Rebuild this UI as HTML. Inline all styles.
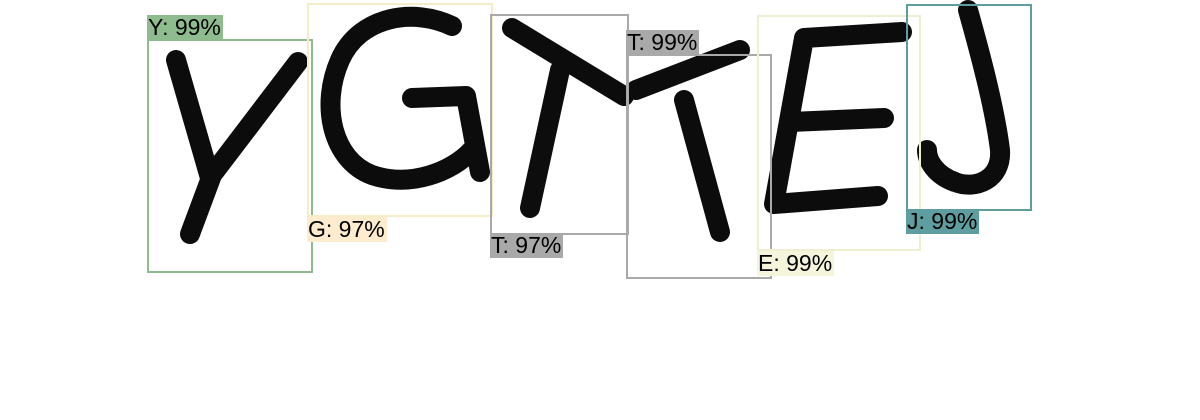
<!DOCTYPE html>
<html><head><meta charset="utf-8"><style>
html,body{margin:0;padding:0;background:#fff;width:1200px;height:420px;overflow:hidden}
.lbl{position:absolute;font-family:"Liberation Sans",sans-serif;font-size:23px;line-height:25px;height:25px;color:#000;padding:0 2px 0 1px}
.box{position:absolute;border:2px solid;box-sizing:border-box}
</style></head><body>
<svg width="1200" height="420" style="position:absolute;left:0;top:0">
<g fill="none" stroke="#000" stroke-width="20" stroke-linecap="round" stroke-linejoin="round" opacity="0.95">
<!-- Y -->
<path d="M176 60 L210 178"/><path d="M298 62 L212 175 L190 234"/>
<!-- G -->
<path d="M452 26 C415 8 360 15 340 60 C320 105 332 160 372 175 C410 188 452 172 472 150"/>
<path d="M412 98 L466 96 L480 172"/>
<!-- T1 -->
<path d="M512 28 L624 96"/><path d="M560 70 L530 208"/>
<!-- T2 -->
<path d="M636 90 L740 50"/><path d="M684 100 L720 232"/>
<!-- E -->
<path d="M902 32 L804 38 L774 204 L878 196"/><path d="M790 122 L884 118"/>
<!-- J -->
<path d="M968 10 C982 60 995 110 1000 150 C1002 180 975 190 955 182 C935 175 927 160 927 150"/>
</g>
</svg>
<div class="box" style="left:147px;top:39px;width:166px;height:234px;border-color:#8fbc8f"></div>
<div class="lbl" style="left:147px;top:15px;background:#8fbc8f">Y: 99%</div>
<div class="box" style="left:307px;top:3px;width:186px;height:214px;border-color:#f5ecc8"></div>
<div class="lbl" style="left:307px;top:217px;background:#ffebcd">G: 97%</div>
<div class="box" style="left:490px;top:14px;width:139px;height:221px;border-color:#a9a9a9"></div>
<div class="lbl" style="left:490px;top:233px;background:#a9a9a9">T: 97%</div>
<div class="box" style="left:626px;top:54px;width:146px;height:225px;border-color:#a9a9a9"></div>
<div class="lbl" style="left:626px;top:30px;background:#a9a9a9">T: 99%</div>
<div class="box" style="left:757px;top:15px;width:164px;height:236px;border-color:#eeeed0"></div>
<div class="lbl" style="left:757px;top:251px;background:#f5f5dc">E: 99%</div>
<div class="box" style="left:906px;top:4px;width:126px;height:207px;border-color:#5f9ea0"></div>
<div class="lbl" style="left:906px;top:209px;background:#5f9ea0">J: 99%</div>
</body></html>
